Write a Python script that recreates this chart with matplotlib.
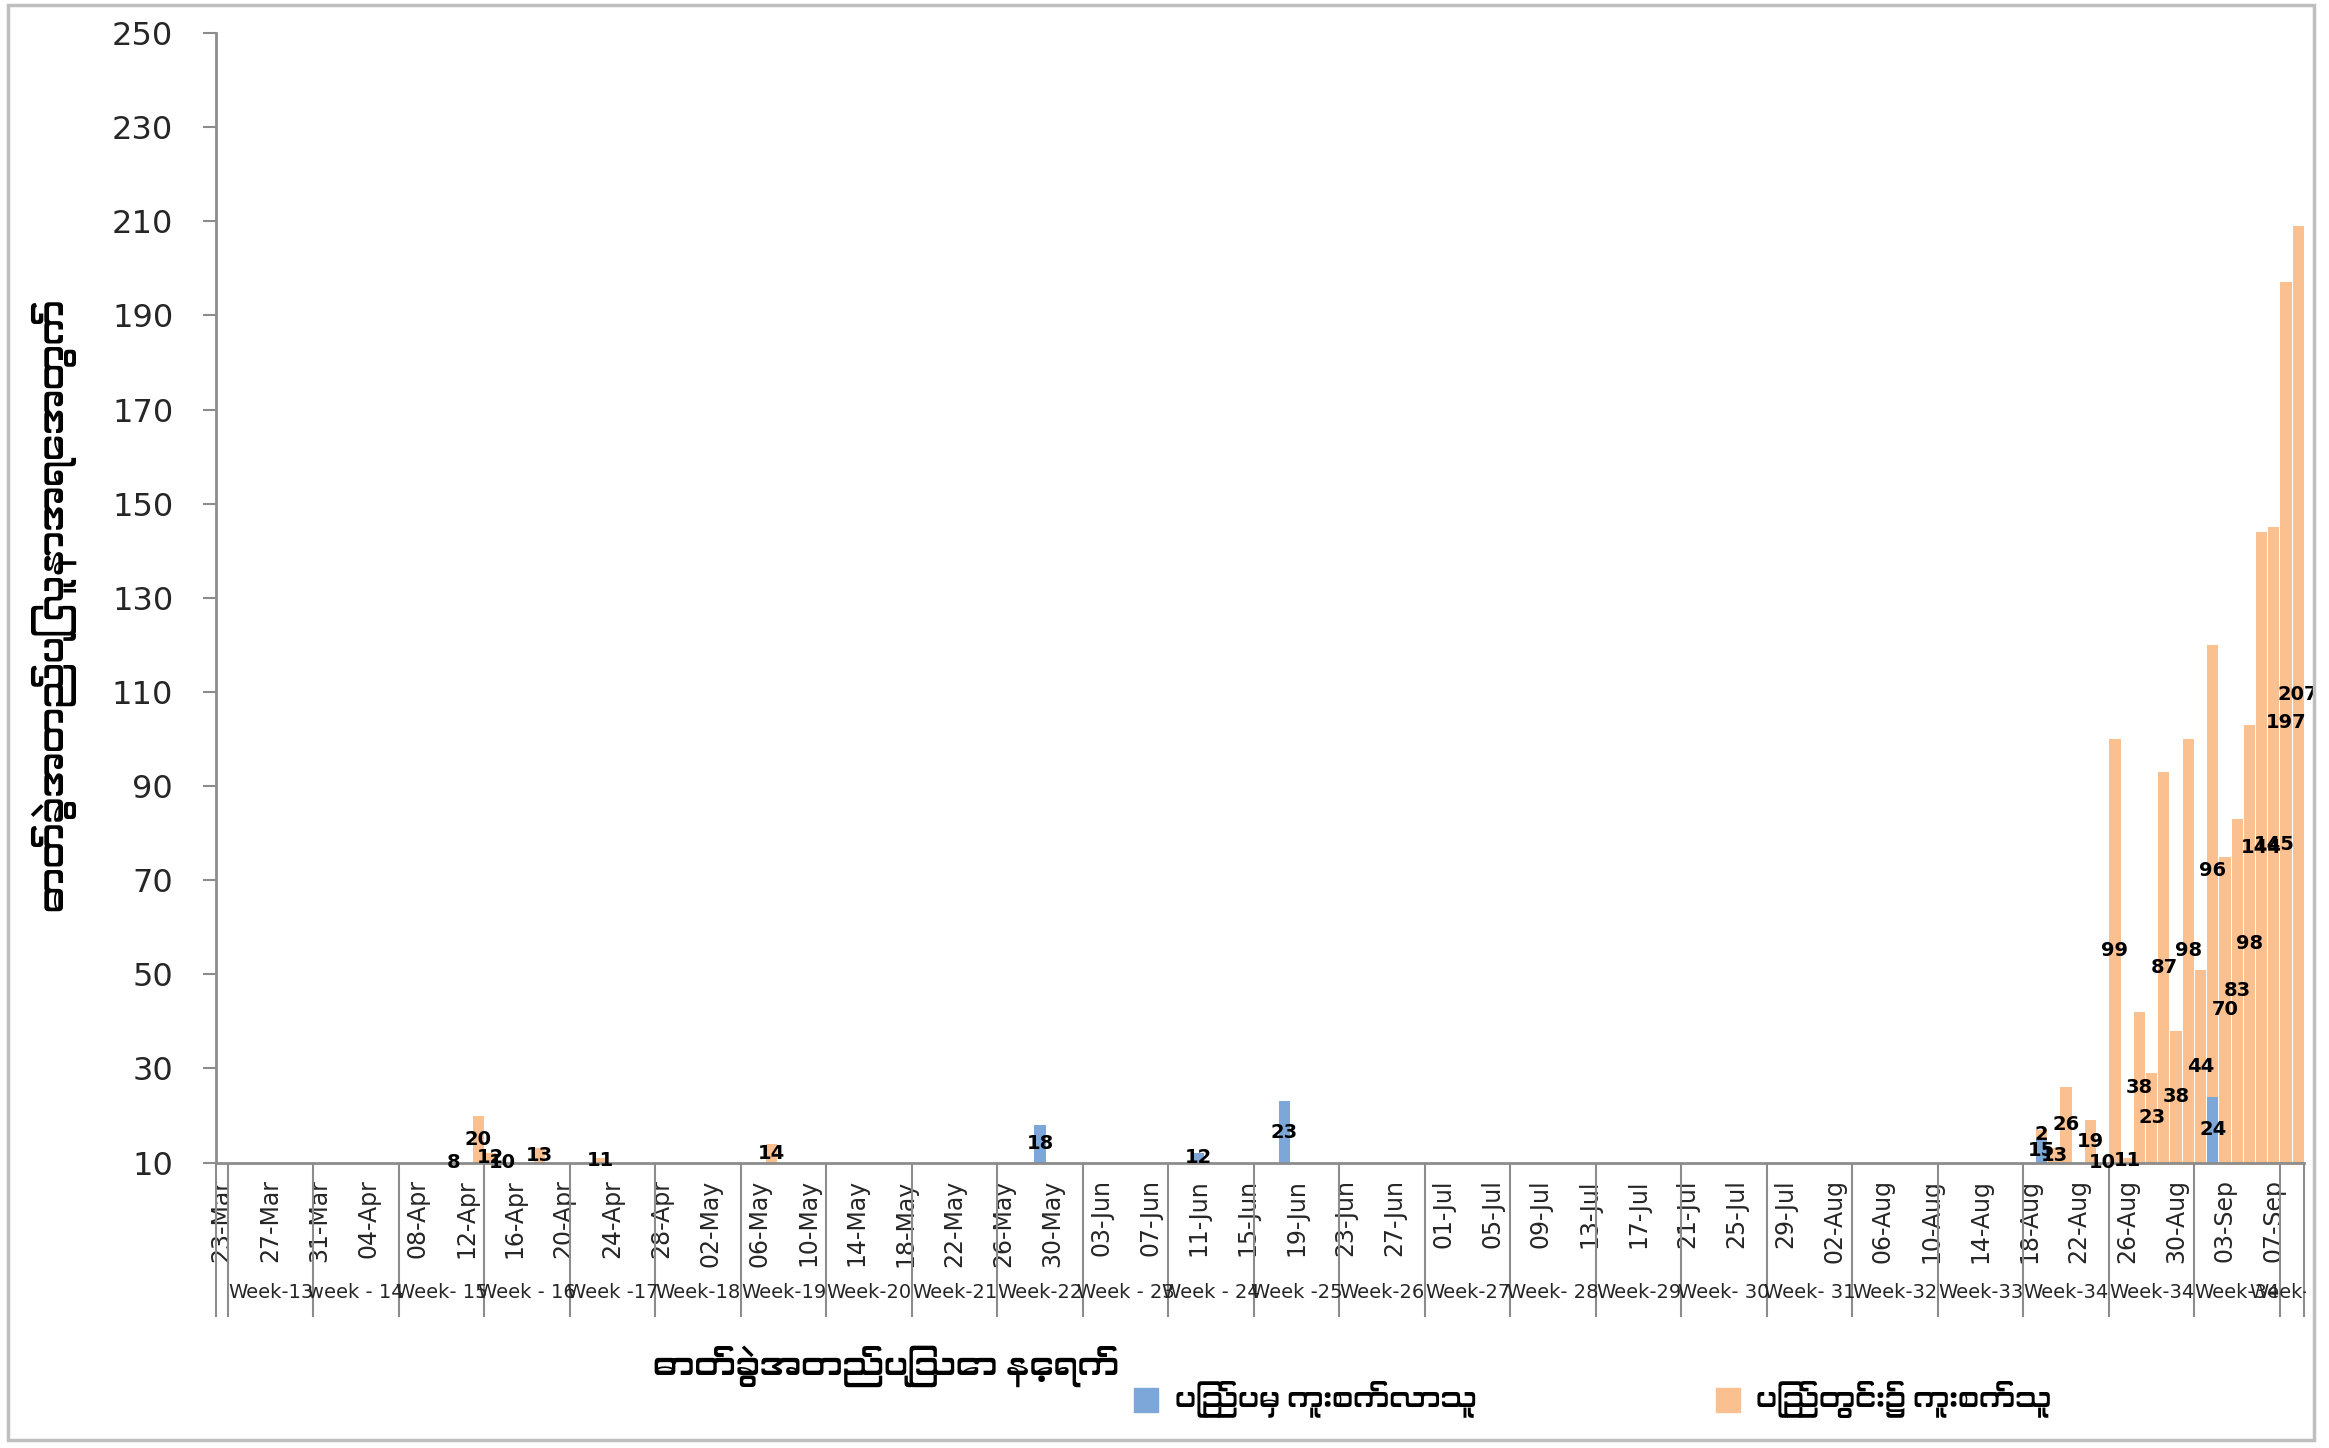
import datetime as dt
import numpy as np
import matplotlib
matplotlib.use('Agg')
import matplotlib.pyplot as plt
from matplotlib import font_manager
from matplotlib.patches import Rectangle
from matplotlib.transforms import Bbox

# ---- data ----
start_date = dt.date(2020, 3, 23)
end_date = dt.date(2020, 9, 9)

local_dates = ['11-Apr', '13-Apr', '14-Apr', '15-Apr', '18-Apr', '23-Apr', '07-May',
               '19-Aug', '20-Aug', '21-Aug', '23-Aug', '24-Aug', '25-Aug', '26-Aug',
               '27-Aug', '28-Aug', '29-Aug', '30-Aug', '31-Aug', '01-Sep', '02-Sep',
               '03-Sep', '04-Sep', '05-Sep', '06-Sep', '07-Sep', '08-Sep', '09-Sep']
local_cases = [8, 20, 12, 10, 13, 11, 14,
               2, 13, 26, 19, 10, 99, 11,
               38, 23, 87, 38, 98, 44, 96,
               70, 83, 98, 144, 145, 197, 207]

imported_dates = ['29-May', '11-Jun', '18-Jun', '19-Aug', '25-Aug', '27-Aug', '28-Aug',
                  '29-Aug', '31-Aug', '01-Sep', '02-Sep', '03-Sep', '05-Sep', '09-Sep']
imported_cases = [18, 12, 23, 15, 1, 4, 6,
                  6, 2, 7, 24, 5, 5, 2]

week_labels = ['Week-13', 'week - 14', 'Week- 15', 'Week - 16', 'Week -17', 'Week-18',
               'Week-19', 'Week-20', 'Week-21', 'Week-22', 'Week - 23', 'Week - 24',
               'Week -25', 'Week-26', 'Week-27', 'Week- 28', 'Week-29', 'Week- 30',
               'Week- 31', 'Week-32', 'Week-33', 'Week-34', 'Week-34', 'Week-34', 'Week-35']

y_ticks = list(range(10, 251, 20))

ylabel = 'ဓာတ်ခွဲအတည်ပြု လူနာအရေအတွက်'
xlabel = 'ဓာတ်ခွဲအတည်ပြုသော နေ့ရက်'
imported_name = 'ပြည်ပမှ ကူးစက်လာသူ'
local_name = 'ပြည်တွင်း၌ ကူးစက်သူ'

blue = '#7DA7D9'
orange = '#FAC08F'

# font with Myanmar glyphs, if one is installed
mm_fonts = [f.name for f in font_manager.fontManager.ttflist
            if any(k in f.name for k in ('Myanmar', 'Padauk', 'Pyidaungsu', 'Zawgyi'))]
mm_family = mm_fonts[:1] + ['DejaVu Sans']

n = (end_date - start_date).days + 1
days = [start_date + dt.timedelta(days=i) for i in range(n)]


def to_series(dlist, vals):
    s = np.zeros(n)
    for d, v in zip(dlist, vals):
        day = dt.datetime.strptime(d + '-2020', '%d-%b-%Y').date()
        s[(day - start_date).days] = v
    return s


imported = to_series(imported_dates, imported_cases)
local = to_series(local_dates, local_cases)
x = np.arange(n)

W, H = 2329, 1448
fig = plt.figure(figsize=(W / 100, H / 100), dpi=100)
ax = fig.add_axes([215.6 / W, 1 - 1162.6 / H, (2304.3 - 215.6) / W, 1129.6 / H])

ax.bar(x, imported, width=0.92, color=blue, label=imported_name)
ax.bar(x, local, width=0.92, bottom=imported, color=orange, label=local_name)

ymin = 10
ax.set_ylim(ymin, 250)
ax.set_xlim(-0.5, n - 0.5)

# data labels at the middle of the visible part of each segment
lab_kw = dict(ha='center', va='center', fontsize=14, fontweight='bold', color='black')
for i in range(n):
    if imported[i] >= ymin:
        ax.text(x[i], (ymin + imported[i]) / 2, f'{int(imported[i])}', **lab_kw)
    if local[i] > 0:
        lo, hi = imported[i], imported[i] + local[i]
        yy = (max(lo, ymin) + hi) / 2 if hi > ymin else ymin
        ax.text(x[i], yy, f'{int(local[i])}', **lab_kw)

# axes styling
for s in ['top', 'right']:
    ax.spines[s].set_visible(False)
for s in ['left', 'bottom']:
    ax.spines[s].set_color('#8C8C8C')
    ax.spines[s].set_linewidth(2)

ax.set_yticks(y_ticks)
ax.tick_params(axis='y', length=9.5, width=1.5, color='#8C8C8C', pad=21,
               labelsize=23, labelcolor='#262626')

tick_idx = list(range(0, n, 4))
ax.set_xticks(tick_idx)
ax.set_xticklabels([days[i].strftime('%d-%b') for i in tick_idx], rotation=90,
                   fontsize=17, color='#262626')
ax.tick_params(axis='x', length=0, pad=12)

# week group separators and labels
xt = ax.get_xaxis_transform()
bounds = [-0.5, 0.5] + [0.5 + 7 * k for k in range(1, 25)] + [n - 0.5]
ax.vlines(bounds, -0.137, 0, transform=xt, clip_on=False, color='#8C8C8C', lw=1.5)
edge_clip = Bbox([[0, 0], [2306, H]])
for k, lab in enumerate(week_labels):
    g0 = 1 + 7 * k
    g1 = min(g0 + 6, n - 1)
    t = ax.text((g0 + g1) / 2, -0.1154, lab, transform=xt, ha='center', va='center',
                fontsize=14, color='#262626')
    t.set_clip_box(edge_clip)
    t.set_clip_on(True)

# titles
fig.text(54 / W, 1 - 606 / H, ylabel, rotation=90, ha='center', va='center',
         fontsize=26, fontweight='bold', family=mm_family)
fig.text(886 / W, 1 - 1366 / H, xlabel, ha='center', va='center',
         fontsize=24, fontweight='bold', family=mm_family)

# legend
fig.add_artist(Rectangle((1134 / W, 1 - 1412 / H), 24 / W, 24 / H,
                         transform=fig.transFigure, color=blue))
fig.text(1175 / W, 1 - 1399 / H, imported_name, ha='left', va='center',
         fontsize=21, family=mm_family)
fig.add_artist(Rectangle((1716 / W, 1 - 1412 / H), 24 / W, 24 / H,
                         transform=fig.transFigure, color=orange))
fig.text(1756 / W, 1 - 1399 / H, local_name, ha='left', va='center',
         fontsize=21, family=mm_family)

# outer chart frame
fig.add_artist(Rectangle((8 / W, 1 - 1440 / H), 2306 / W, 1435 / H,
                         transform=fig.transFigure, fill=False,
                         edgecolor='#BFBFBF', lw=2.5))

fig.savefig('out.png', dpi=100)
